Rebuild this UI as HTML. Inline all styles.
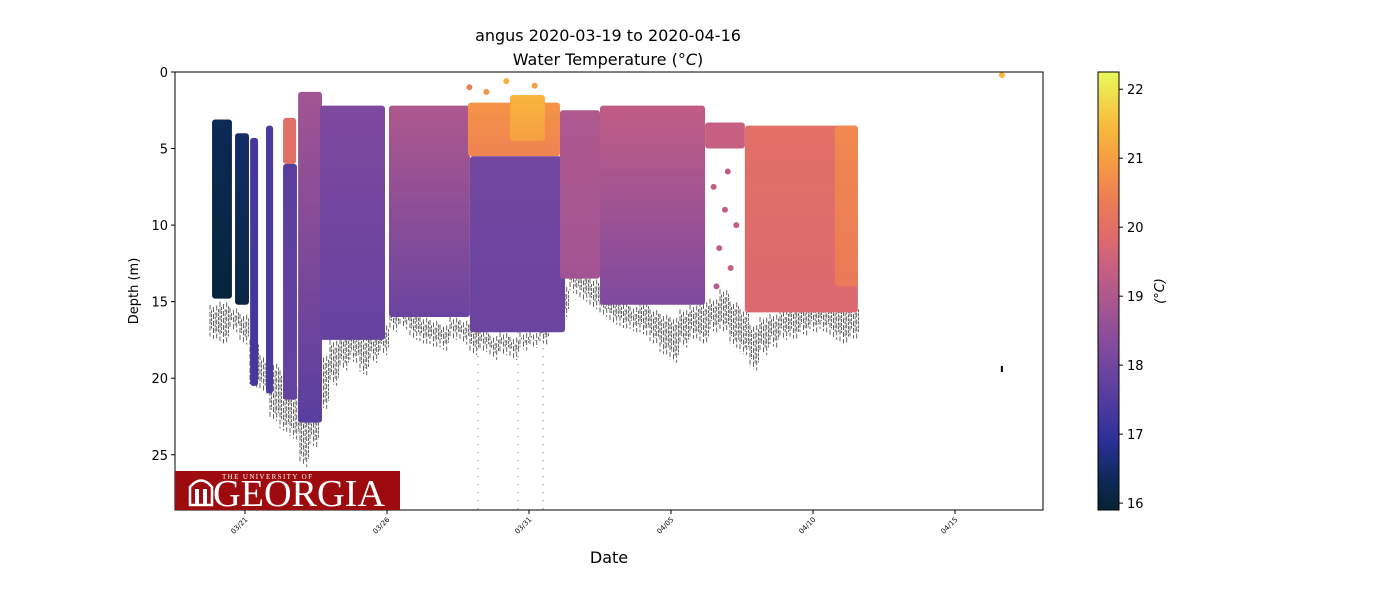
<!DOCTYPE html>
<html><head><meta charset="utf-8"><style>
html,body{margin:0;padding:0;background:#fff;}
svg text{font-family:"DejaVu Sans","Liberation Sans",sans-serif;}
</style></head><body>
<svg id="chart" width="1400" height="600" xmlns="http://www.w3.org/2000/svg">
<defs id="defs"></defs>
<text x="608" y="41" font-size="16" text-anchor="middle">angus 2020-03-19 to 2020-04-16</text>
<text x="608" y="65" font-size="16" text-anchor="middle">Water Temperature (<tspan font-style="italic">°C</tspan>)</text>
<g id="plot"></g>
<rect x="175" y="72" width="868" height="438" fill="none" stroke="#000" stroke-width="1"/>
<g id="yaxis"></g>
<g id="xaxis"></g>
<text transform="translate(138,291) rotate(-90)" font-size="13" text-anchor="middle">Depth (m)</text>
<text x="609" y="563" font-size="16" text-anchor="middle">Date</text>
<g>
<rect x="175" y="471" width="225" height="39" fill="#9e0b0f"/>
<path d="M190 505 L190 487 Q201 474 212 487 L212 505 Z" fill="none" stroke="#fff" stroke-width="2.5"/>
<rect x="195" y="489" width="4" height="15" fill="#fff"/>
<rect x="203" y="489" width="4" height="15" fill="#fff"/>
<text x="222" y="479" font-size="7" fill="#fff" style="font-family:'Liberation Serif',serif" textLength="90">THE UNIVERSITY OF</text>
<text x="213" y="506" font-size="38" fill="#fff" style="font-family:'Liberation Serif',serif" textLength="172" lengthAdjust="spacingAndGlyphs">GEORGIA</text>
</g>
<g id="cbar"></g>
<text transform="translate(1164,291) rotate(-90)" font-size="13" text-anchor="middle" font-style="italic">(°C)</text>
</svg>
<script>
// Column segments: days since 2020-03-21 00:00
const colStart = [-1.16,-0.35,0.18,0.74,1.34,1.34,1.87,2.64,5.07,7.85,7.92,9.33,11.09,12.5,16.2,17.6,20.77];
const colEnd   = [-0.46,0.14,0.46,0.99,1.80,1.83,2.71,4.93,7.92,11.09,11.27,10.56,12.5,16.2,17.6,21.58,21.58];
const colTop   = [3.1,4.0,4.3,3.5,3.0,6.0,1.3,2.2,2.2,2.0,5.5,1.5,2.5,2.2,3.3,3.5,3.5];
const colBot   = [14.8,15.2,20.5,21.0,6.0,21.4,22.9,17.5,16.0,5.5,17.0,4.5,13.5,15.2,5.0,15.7,14.0];
const tempTop  = [16.3,16.5,17.3,17.4,20.0,17.6,18.8,18.2,19.0,20.8,18.0,21.4,19.0,19.3,19.4,20.0,20.6];
const tempBot  = [16.0,16.1,17.3,17.4,20.0,17.8,17.6,17.8,17.9,20.5,17.9,21.0,18.8,18.2,19.4,19.8,20.3];
// Isolated points
const ptDay   = [26.65,16.5,16.9,16.7,17.1,17.3,16.6,17.0,7.9,8.5,9.2,10.2];
const ptDepth = [0.2,7.5,9.0,11.5,12.8,10.0,14.0,6.5,1.0,1.3,0.6,0.9];
const ptTemp  = [21.4,19.3,19.3,19.3,19.4,19.3,19.2,19.3,20.4,20.8,21.3,21.0];
// Seabed (black) trace, per bin
const bedX0 = [215,225,235,245,255,265,275,285,295,305,315,325,335,345,355,365,375,385,395,405,415,425,435,445,455,465,475,485,495,505,515,525,535,545,555,565,575,585,595,605,615,625,635,645,655,665,675,685,695,705,715,725,735,745,755,765,775,785,795,805,815,825,835,845,855];
const bedTop = [15.2,15.0,15.4,15.8,17.5,18.5,19.0,19.5,20.5,21.0,20.0,18.5,17.5,17.0,16.8,17.2,17.0,16.5,15.0,15.2,15.5,16.0,16.2,16.5,16.0,16.2,16.5,16.8,17.2,17.0,17.3,17.0,17.0,16.5,15.5,14.0,12.8,13.0,13.5,14.0,14.5,15.0,15.3,15.0,15.5,15.8,16.0,15.5,15.2,15.0,14.8,14.2,15.0,15.5,16.5,16.0,15.8,15.5,15.2,15.0,14.8,14.8,15.0,15.0,15.2];
const bedBot = [17.5,17.8,17.0,17.8,20.6,21.0,22.8,23.5,24.0,25.8,24.5,22.0,20.5,19.5,19.0,19.8,19.0,18.5,17.0,16.8,17.5,17.8,18.0,18.2,17.5,17.8,18.5,18.3,18.8,18.5,18.8,18.2,18.0,17.8,17.0,16.0,14.5,15.0,15.5,16.0,16.5,16.8,17.0,17.2,17.8,18.5,19.0,18.0,17.5,17.8,17.0,17.0,18.0,18.5,19.5,18.5,18.0,17.5,17.5,17.2,17.0,17.0,17.5,17.8,17.5];
const yTicks = [0,5,10,15,20,25];
const xTickDays = [0,5,10,15,20,25];
const xTickLabels = ['03/21','03/26','03/31','04/05','04/10','04/15'];
const cbTicks = [16,17,18,19,20,21,22];

const NS='http://www.w3.org/2000/svg';
const X0=175,X1=1043,Y0=72,Y1=510;
const xs = d => 245 + d*28.4;
const ys = m => 72 + m*15.31;
const TMIN=15.9,TMAX=22.25;
const stops=[[15.9,'#042333'],[16.4,'#0f2a5e'],[16.9,'#2b2f97'],[17.4,'#4c3a9e'],[17.9,'#6b44a0'],[18.4,'#8a4d9c'],[18.9,'#a85690'],[19.4,'#c75f82'],[19.9,'#e06c6a'],[20.4,'#ec7e55'],[20.9,'#f69944'],[21.5,'#f7bc3c'],[22.25,'#e8fa5b']];
function hex(h){return [1,3,5].map(i=>parseInt(h.substr(i,2),16));}
function cmap(t){
  t=Math.max(TMIN,Math.min(TMAX,t));
  for(let i=0;i<stops.length-1;i++){
    const [a,ca]=stops[i],[b,cb]=stops[i+1];
    if(t<=b){const f=(t-a)/(b-a);const A=hex(ca),B=hex(cb);
      return 'rgb('+A.map((v,k)=>Math.round(v+(B[k]-v)*f)).join(',')+')';}
  }
  return stops[stops.length-1][1];
}
function el(tag,attrs,parent){const e=document.createElementNS(NS,tag);for(const k in attrs)e.setAttribute(k,attrs[k]);parent.appendChild(e);return e;}
const plot=document.getElementById('plot'),defs=document.getElementById('defs');

// seabed
const offs=[0,0.35,0.15,0.5,0.05,0.3];
for(let i=0;i<bedX0.length;i++){
  const x=bedX0[i];
  for(let k=0;k<6;k++){
    const l=el('line',{x1:x-5+k*1.7,x2:x-5+k*1.7,y1:ys(bedTop[i]+offs[k]),y2:ys(bedBot[i]-offs[(k+2)%6]*1.5),stroke:'#000','stroke-width':0.6,'stroke-dasharray':(k%2?'3 1':'5 2')},plot);
    
    
  }
}
[478,518,543].forEach(x=>{const l=el('line',{x1:x,x2:x,y1:ys(17),y2:Y1,stroke:'#000','stroke-width':0.6,'stroke-dasharray':'1 7'},plot);

});

// columns
for(let i=0;i<colStart.length;i++){
  const g=el('linearGradient',{id:'g'+i,x1:0,y1:0,x2:0,y2:1},defs);
  el('stop',{offset:0,'stop-color':cmap(tempTop[i])},g);
  el('stop',{offset:1,'stop-color':cmap(tempBot[i])},g);
  const x=xs(colStart[i]),w=xs(colEnd[i])-x,y=ys(colTop[i]),h=ys(colBot[i])-y;
  const r=el('rect',{x:x,y:y,width:w,height:h,rx:3,fill:'url(#g'+i+')'},plot);
  
  
}
for(let i=0;i<ptDay.length;i++){
  const c=el('circle',{cx:xs(ptDay[i]),cy:ys(ptDepth[i]),r:3,fill:cmap(ptTemp[i])},plot);
  
  
}
const bm=el('rect',{x:xs(26.65)-1,y:ys(19.2),width:2,height:ys(19.6)-ys(19.2),fill:'#000'},plot);



// axes
const ya=document.getElementById('yaxis');
yTicks.forEach(v=>{const y=ys(v);
  const t=el('line',{x1:X0-4,x2:X0,y1:y,y2:y,stroke:'#000'},ya);
  
  
  const tx=el('text',{x:X0-7,y:y+5,'font-size':13,'text-anchor':'end'},ya);tx.textContent=v;
  
  
});
const xa=document.getElementById('xaxis');
xTickDays.forEach((d,i)=>{const x=xs(d);
  const t=el('line',{x1:x,x2:x,y1:Y1,y2:Y1+4,stroke:'#000'},xa);
  
  
  const tx=el('text',{x:0,y:0,'font-size':7,'text-anchor':'end',transform:'translate('+(x+3)+','+(Y1+10)+') rotate(-45)'},xa);tx.textContent=xTickLabels[i];
  
  
});
// colorbar
const cb=document.getElementById('cbar');
const cg=el('linearGradient',{id:'cbg',x1:0,y1:1,x2:0,y2:0},defs);
stops.forEach(s=>el('stop',{offset:(s[0]-TMIN)/(TMAX-TMIN),'stop-color':s[1]},cg));
const cr=el('rect',{x:1098,y:72,width:21,height:438,fill:'url(#cbg)',stroke:'#000','stroke-width':1},cb);


cbTicks.forEach(v=>{const y=510-(v-TMIN)/(TMAX-TMIN)*438;
  const t=el('line',{x1:1119,x2:1123,y1:y,y2:y,stroke:'#000'},cb);
  
  
  const tx=el('text',{x:1127,y:y+5,'font-size':13},cb);tx.textContent=v;
  
  
});
</script>
</body></html>
